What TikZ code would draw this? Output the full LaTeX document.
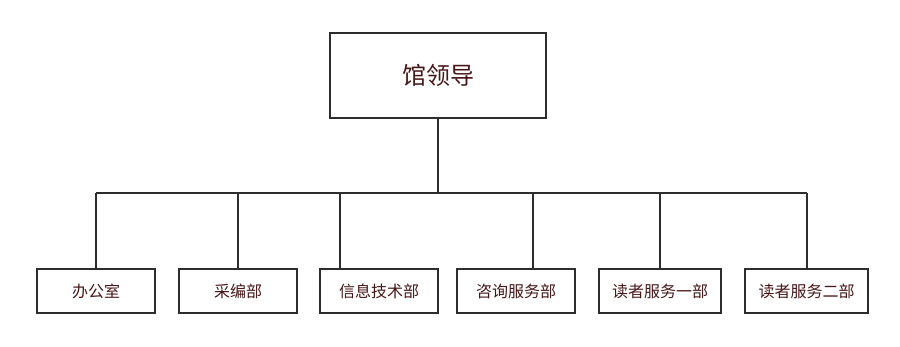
\documentclass[tikz,border=0pt]{standalone}
\usepackage{fontspec}
\newfontfamily\cjk{Noto Sans CJK SC}
\usetikzlibrary{positioning}
\definecolor{txtred}{RGB}{72,22,22}
\definecolor{linegray}{RGB}{45,45,45}
\tikzset{
  headbox/.style = {draw=linegray, line width=1.8pt, rectangle, inner sep=0pt,
                    minimum width=216pt, minimum height=85pt, text=txtred,
                    font=\cjk\fontsize{24}{24}\selectfont},
  dept/.style    = {draw=linegray, line width=1.8pt, rectangle, inner sep=0pt,
                    minimum height=44pt, text=txtred,
                    font=\cjk\fontsize{16}{16}\selectfont},
  wire/.style    = {draw=linegray, line width=1.8pt},
}

\begin{document}
\begin{tikzpicture}[x=1pt, y=-1pt]
    \useasboundingbox (0,0) rectangle (900,347);
    % leadership
    \node[headbox] (lead) at (438,75.5) {馆领导};
    % departments
    \node[dept, minimum width=118pt] (d1) at (96,291)    {办公室};
    \node[dept, minimum width=118pt] (d2) at (238,291)   {采编部};
    \node[dept, minimum width=118pt] (d3) at (379,291)   {信息技术部};
    \node[dept, minimum width=118pt] (d4) at (516,291)   {咨询服务部};
    \node[dept, minimum width=122pt] (d5) at (660,291)   {读者服务一部};
    \node[dept, minimum width=123pt] (d6) at (806.5,291) {读者服务二部};
    % bus junctions
    \coordinate (j1) at (96,193);
    \coordinate (j2) at (238,193);
    \coordinate (j3) at (340,193);
    \coordinate (j4) at (533,193);
    \coordinate (j5) at (660,193);
    \coordinate (j6) at (807,193);
    \draw[wire] (lead.south) -- (lead.south |- j1);
    \draw[wire] (j1) -- (j6);
    \draw[wire] (j1) -- (j1 |- d1.north);
    \draw[wire] (j2) -- (j2 |- d2.north);
    \draw[wire] (j3) -- (j3 |- d3.north);
    \draw[wire] (j4) -- (j4 |- d4.north);
    \draw[wire] (j5) -- (j5 |- d5.north);
    \draw[wire] (j6) -- (j6 |- d6.north);
\end{tikzpicture}
\end{document}
